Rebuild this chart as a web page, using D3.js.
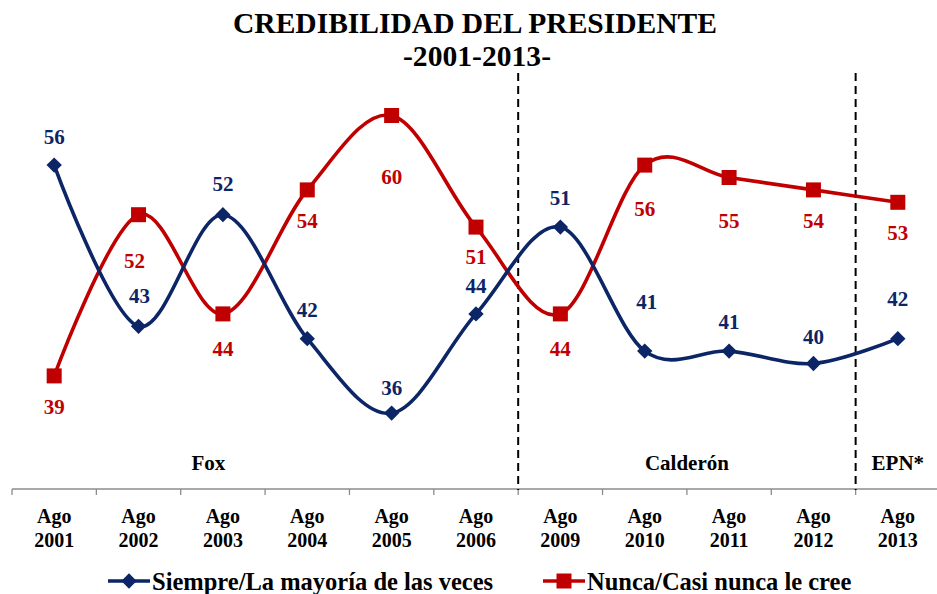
<!DOCTYPE html>
<html>
<head>
<meta charset="utf-8">
<script src="https://cdn.jsdelivr.net/npm/d3@7"></script>
<style>
  html, body { margin: 0; padding: 0; background: #fff; }
  svg { display: block; }
  text { font-family: "Liberation Serif", "Times New Roman", serif; font-weight: bold; }
</style>
</head>
<body>
<svg id="chart" width="937" height="594"></svg>
<script>
// Survey periods (month / year)
const months = ["Ago","Ago","Ago","Ago","Ago","Ago","Ago","Ago","Ago","Ago","Ago"];
const years  = ["2001","2002","2003","2004","2005","2006","2009","2010","2011","2012","2013"];
const categories = years.map((y, i) => months[i] + " " + y);

// Share of respondents (%)
const siempre = [56, 43, 52, 42, 36, 44, 51, 41, 41, 40, 42];
const nunca   = [39, 52, 44, 54, 60, 51, 44, 56, 55, 54, 53];

// Presidential terms: label, first and last period of each term
const terms      = ["Fox", "Calderón", "EPN*"];
const termStarts = [0, 6, 10];
const termEnds   = [5, 9, 10];

const seriesNames = ["Siempre/La mayoría de las veces", "Nunca/Casi nunca le cree"];

const BLUE = "#0B2566";
const RED = "#C00000";

const svg = d3.select("#chart");

const x = d3.scaleBand().domain(categories).range([12, 940]).paddingInner(0).paddingOuter(0);
const y = d3.scaleLinear().domain([30, 65]).range([487.5, 53.5]);
const cx = c => x(c) + x.bandwidth() / 2;
const axisY = 489;

// Title
svg.append("text").attr("x", 475).attr("y", 33).attr("text-anchor", "middle")
  .attr("font-size", 29).attr("textLength", 484).attr("lengthAdjust", "spacingAndGlyphs")
  .text("CREDIBILIDAD DEL PRESIDENTE");
svg.append("text").attr("x", 477).attr("y", 66).attr("text-anchor", "middle")
  .attr("font-size", 29).attr("textLength", 148).attr("lengthAdjust", "spacingAndGlyphs")
  .text("-2001-2013-");

// Horizontal axis with ticks on the category boundaries
const axis = d3.axisBottom(x).tickSize(0).tickFormat("");
const gAxis = svg.append("g").attr("transform", `translate(0,${axisY})`).call(axis);
gAxis.select(".domain").attr("stroke", "#8c8c8c").attr("stroke-width", 1.3)
  .attr("d", `M12,0H937`);
const boundaries = categories.map(c => x(c));
gAxis.selectAll(".bound").data(boundaries).join("line")
  .attr("x1", d => d).attr("x2", d => d).attr("y1", 0).attr("y2", 6)
  .attr("stroke", "#8c8c8c").attr("stroke-width", 1.3);

// Two-line tick labels
const tl = svg.append("g").selectAll("text").data(categories).join("text")
  .attr("text-anchor", "middle").attr("font-size", 20).attr("fill", "#000");
tl.append("tspan").attr("x", d => cx(d)).attr("y", 523).text((d, i) => months[i]);
tl.append("tspan").attr("x", d => cx(d)).attr("y", 547).text((d, i) => years[i]);

// Dashed separators between presidential terms
const seps = termEnds.slice(0, -1).map(i => x(categories[i]) + x.bandwidth());
svg.append("g").selectAll("line").data(seps).join("line")
  .attr("x1", d => d).attr("x2", d => d).attr("y1", 73).attr("y2", axisY + 1)
  .attr("stroke", "#000").attr("stroke-width", 2).attr("stroke-dasharray", "8,5");

// Term labels
svg.append("g").selectAll("text").data(terms).join("text")
  .attr("x", (d, i) => {
    const a = x(categories[termStarts[i]]);
    const b = x(categories[termEnds[i]]) + x.bandwidth();
    return i === 0 ? a + (b - a) * 0.388 : (a + b) / 2;
  })
  .attr("y", 470).attr("text-anchor", "middle").attr("font-size", 21)
  .text(d => d);

// Smoothed lines
const line = d3.line().x(d => d[0]).y(d => d[1]).curve(d3.curveCardinal.tension(0));
const pts = vals => vals.map((v, i) => [cx(categories[i]), y(v)]);

svg.append("path").attr("d", line(pts(nunca))).attr("fill", "none")
  .attr("stroke", RED).attr("stroke-width", 3.6);
svg.append("path").attr("d", line(pts(siempre))).attr("fill", "none")
  .attr("stroke", BLUE).attr("stroke-width", 3.6);

// Markers
const diamond = d3.symbol().type(d3.symbolDiamond2).size(150);
svg.append("g").selectAll("path").data(pts(siempre)).join("path")
  .attr("d", diamond).attr("transform", d => `translate(${d[0]},${d[1]})`).attr("fill", BLUE);
svg.append("g").selectAll("rect").data(pts(nunca)).join("rect")
  .attr("x", d => d[0] - 7.5).attr("y", d => d[1] - 7.5).attr("width", 15).attr("height", 15)
  .attr("fill", RED);

// Value labels (blue above, red below)
const blueDy = [-28, -30, -31, -29, -25, -28, -29, -49, -29, -27, -40];
const redDy  = [ 31,  46,  35,  31,  61,  30,  35,  44,  43,  31,  31];
const blueDx = [0, 1, 0, 0, 0, 0, 0, 2, 0, 0, 0];
const redDx  = [0, -4, 0, 0, 0, 0, 0, 0, 0, 0, 0];

svg.append("g").selectAll("text").data(siempre).join("text")
  .attr("x", (d, i) => cx(categories[i]) + blueDx[i])
  .attr("y", (d, i) => y(d) + blueDy[i] + 7)
  .attr("text-anchor", "middle").attr("font-size", 21).attr("fill", BLUE)
  .text(d => d);
svg.append("g").selectAll("text").data(nunca).join("text")
  .attr("x", (d, i) => cx(categories[i]) + redDx[i])
  .attr("y", (d, i) => y(d) + redDy[i] + 7)
  .attr("text-anchor", "middle").attr("font-size", 21).attr("fill", RED)
  .text(d => d);

// Legend
const legend = [
  { name: seriesNames[0], color: BLUE, x0: 108, shape: "diamond" },
  { name: seriesNames[1], color: RED, x0: 543, shape: "square" }
];
const lg = svg.append("g").selectAll("g").data(legend).join("g");
lg.append("line").attr("x1", d => d.x0).attr("x2", d => d.x0 + 42)
  .attr("y1", 581).attr("y2", 581).attr("stroke", d => d.color).attr("stroke-width", 3.6);
lg.filter(d => d.shape === "diamond").append("path").attr("d", diamond)
  .attr("transform", d => `translate(${d.x0 + 21},581)`).attr("fill", d => d.color);
lg.filter(d => d.shape === "square").append("rect")
  .attr("x", d => d.x0 + 13.5).attr("y", 573.5).attr("width", 15).attr("height", 15)
  .attr("fill", d => d.color);
lg.append("text").attr("x", d => d.x0 + 44).attr("y", 590).attr("font-size", 24.5)
  .attr("fill", "#000").text(d => d.name);
</script>
</body>
</html>
